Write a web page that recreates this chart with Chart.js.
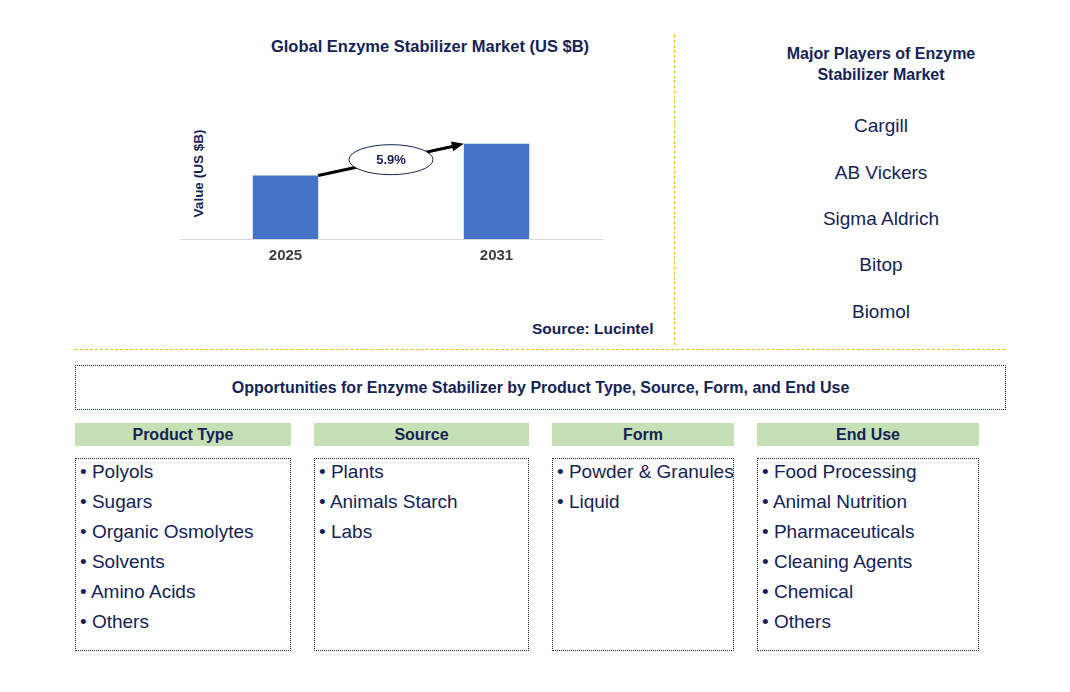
<!DOCTYPE html>
<html><head><meta charset="utf-8">
<script src="https://cdn.jsdelivr.net/npm/chart.js"></script>
<style>
body{margin:0;width:1070px;height:692px;background:#fff;font-family:"Liberation Sans",Arial,sans-serif;color:#142357;position:relative;overflow:hidden}
.a{position:absolute}
.t{font-weight:bold}
.hdr{position:absolute;top:423px;height:23px;background:#c5e0b4;font-weight:bold;font-size:16px;text-align:center;line-height:23px}
.box{position:absolute;top:458px;height:193px;border:1px dotted #142357;box-sizing:border-box;font-size:19px;padding-top:0px}
.box div{height:30px;line-height:26px;padding-left:4px;white-space:nowrap}
.pl{position:absolute;left:690px;width:382px;text-align:center;font-size:19px}
</style></head><body>
<div class="a t" style="left:170px;width:520px;top:37px;text-align:center;font-size:16.5px">Global Enzyme Stabilizer Market (US $B)</div>
<div class="a t" style="left:138px;top:166px;width:120px;text-align:center;font-size:13.5px;transform:rotate(-90deg);transform-origin:center">Value (US $B)</div>
<div class="a" style="left:170px;top:90px;width:440px;height:183px"><canvas id="c"></canvas></div>
<div class="a t" style="left:532px;top:320px;font-size:15.5px">Source: Lucintel</div>
<div class="a" style="left:674px;top:35px;height:310px;border-left:1px dashed #f0c000"></div>
<div class="a" style="left:75px;top:349px;width:930px;border-top:1px dashed #f0c000"></div>
<div class="pl t" style="top:43px;font-size:16px;line-height:21px">Major Players of Enzyme<br>Stabilizer Market</div>
<div class="pl" style="top:115px">Cargill</div>
<div class="pl" style="top:162px">AB Vickers</div>
<div class="pl" style="top:208px">Sigma Aldrich</div>
<div class="pl" style="top:254px">Bitop</div>
<div class="pl" style="top:301px">Biomol</div>
<div class="a t" style="left:75px;top:365px;width:931px;height:45px;border:1px dotted #142357;box-sizing:border-box;text-align:center;line-height:43px;font-size:16px">Opportunities for Enzyme Stabilizer by Product Type, Source, Form, and End Use</div>
<div class="hdr" style="left:75px;width:216px">Product Type</div>
<div class="hdr" style="left:314px;width:215px">Source</div>
<div class="hdr" style="left:552px;width:182px">Form</div>
<div class="hdr" style="left:757px;width:222px">End Use</div>
<div class="box" style="left:75px;width:216px"><div>• Polyols</div><div>• Sugars</div><div>• Organic Osmolytes</div><div>• Solvents</div><div>• Amino Acids</div><div>• Others</div></div>
<div class="box" style="left:314px;width:215px"><div>• Plants</div><div>• Animals Starch</div><div>• Labs</div></div>
<div class="box" style="left:552px;width:182px"><div>• Powder &amp; Granules</div><div>• Liquid</div></div>
<div class="box" style="left:757px;width:222px"><div>• Food Processing</div><div>• Animal Nutrition</div><div>• Pharmaceuticals</div><div>• Cleaning Agents</div><div>• Chemical</div><div>• Others</div></div>
<script>
const years=["2025","2031"];
const values=[1.0,1.5];
const cagr="5.9%";
const arrow={id:"arrow",afterDatasetsDraw(ch){
 const m=ch.getDatasetMeta(0).data,c=ch.ctx;
 const x1=m[0].x+m[0].width/2,y1=m[0].y,x2=m[1].x-m[1].width/2,y2=m[1].y;
 c.save();c.strokeStyle="#000";c.fillStyle="#000";c.lineWidth=3;
 c.beginPath();c.moveTo(x1,y1);c.lineTo(x2-8,y2+2);c.stroke();
 const a=Math.atan2(y2-y1,x2-x1);
 c.beginPath();c.moveTo(x2,y2);c.lineTo(x2-12*Math.cos(a)+5*Math.sin(a),y2-12*Math.sin(a)-5*Math.cos(a));
 c.lineTo(x2-12*Math.cos(a)-5*Math.sin(a),y2-12*Math.sin(a)+5*Math.cos(a));c.fill();
 const cx=(x1+x2)/2,cy=(y1+y2)/2;
 c.beginPath();c.ellipse(cx,cy,42,15,0,0,2*Math.PI);c.fillStyle="#fff";c.fill();c.lineWidth=1;c.strokeStyle="#142357";c.stroke();
 c.fillStyle="#142357";c.font="bold 13px 'Liberation Sans',Arial";c.textAlign="center";c.textBaseline="middle";c.fillText(cagr,cx,cy+1);
 c.restore();}};
new Chart(document.getElementById("c"),{type:"bar",data:{labels:years,datasets:[{data:values,backgroundColor:"#4472c4",barPercentage:0.31,categoryPercentage:1}]},
options:{responsive:true,maintainAspectRatio:false,animation:false,layout:{padding:{left:10,right:8,top:10}},
plugins:{legend:{display:false},tooltip:{enabled:false}},
scales:{y:{display:false,min:0,max:2.19},x:{grid:{display:false,drawTicks:false},border:{color:"#d9d9d9"},ticks:{color:"#404040",font:{size:15,weight:"bold",family:"'Liberation Sans',Arial"},padding:8}}}},
plugins:[arrow]});
</script>
</body></html>
